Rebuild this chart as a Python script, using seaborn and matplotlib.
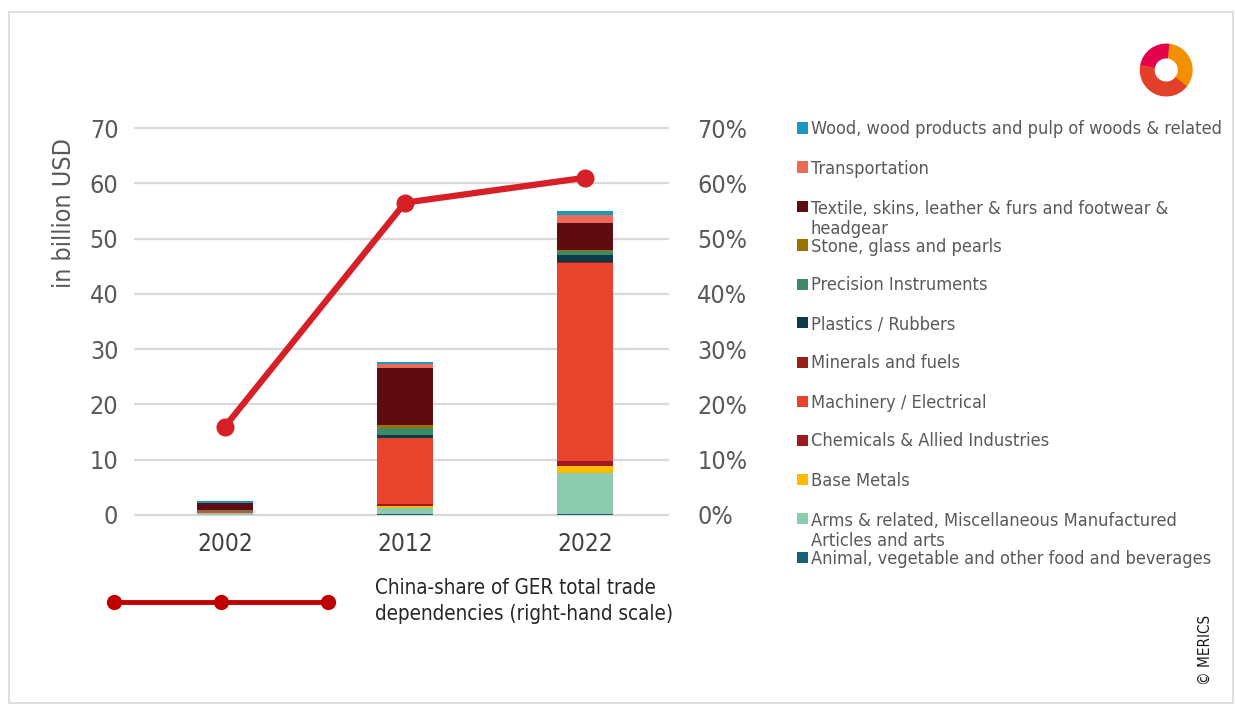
import numpy as np
import pandas as pd
import matplotlib
matplotlib.use("Agg")
import matplotlib.pyplot as plt
import seaborn as sns
from matplotlib.lines import Line2D
from matplotlib.patches import Rectangle, Wedge
from matplotlib.ticker import FuncFormatter

# ---------------- data ----------------
years = ["2002", "2012", "2022"]
# stacking order from bottom to top
categories = [
    "Animal, vegetable and other food and beverages",
    "Arms & related, Miscellaneous Manufactured\nArticles and arts",
    "Base Metals",
    "Chemicals & Allied Industries",
    "Machinery / Electrical",
    "Minerals and fuels",
    "Plastics / Rubbers",
    "Precision Instruments",
    "Stone, glass and pearls",
    "Textile, skins, leather & furs and footwear &\nheadgear",
    "Transportation",
    "Wood, wood products and pulp of woods & related",
]
colors = [
    "#166378", "#8BCBAF", "#FDBB00", "#A01820", "#E8432C", "#992016",
    "#0D3A4A", "#3E8A68", "#9A7200", "#5E0C10", "#EE6A58", "#1B98C0",
]
animal = [0.05, 0.15, 0.10]
arms = [0.30, 1.20, 7.50]
base_metals = [0.05, 0.35, 1.30]
chemicals = [0.05, 0.30, 0.80]
machinery = [0.25, 11.90, 35.90]
minerals = [0.03, 0.10, 0.20]
plastics = [0.05, 0.40, 1.20]
precision = [0.10, 1.25, 0.70]
stone = [0.05, 0.70, 0.25]
textile = [1.20, 10.20, 4.80]
transportation = [0.05, 0.70, 1.60]
wood = [0.30, 0.35, 0.60]
china_share = [0.16, 0.565, 0.61]
line_label = "China-share of GER total trade\ndependencies (right-hand scale)"

series = [animal, arms, base_metals, chemicals, machinery, minerals,
          plastics, precision, stone, textile, transportation, wood]

# ---------------- style ----------------
sns.set_theme(style="white")
plt.rcParams["font.family"] = ["DejaVu Sans"]
plt.rcParams["font.stretch"] = "condensed"
TXT = "#595959"

fig = plt.figure(figsize=(12.35, 7.05), dpi=100)
W, H = 1235, 705

def fx(px):
    return px / W

def fy(py):
    return 1 - py / H

ax = fig.add_axes([fx(135), fy(515), fx(668) - fx(135), fy(128) - fy(515)])

df = pd.DataFrame(np.array(series).T, columns=categories)
df["year"] = years
cum = df[categories].cumsum(axis=1)

# draw cumulative bars from top down so lower segments overlay
for i in reversed(range(len(categories))):
    sns.barplot(x=df["year"], y=cum[categories[i]], color=colors[i],
                width=0.31, saturation=1, linewidth=0, ax=ax)

ax.set_ylim(0, 70)
ax.set_yticks(np.arange(0, 71, 10))
ax.set_xlim(-0.5, 2.46)
ax.set_xlabel("")
ax.set_ylabel("in billion USD", fontsize=18, color=TXT)
ax.yaxis.set_label_coords(-0.111, 0.78)
ax.grid(axis="y", color="#d9d9d9", linewidth=1.6)
ax.set_axisbelow(True)
for gl in ax.get_ygridlines():
    gl.set_clip_on(False)
for s in ax.spines.values():
    s.set_visible(False)
ax.tick_params(axis="y", length=0, pad=12, labelsize=18, labelcolor=TXT)
ax.tick_params(axis="x", length=0, pad=12, labelsize=17.5, labelcolor="#404040")

ax2 = ax.twinx()
xpos = np.arange(len(years))
sns.lineplot(x=xpos, y=china_share, ax=ax2, color="#D71F27", linewidth=4.5,
             marker="o", markersize=13, markeredgewidth=0, legend=False)
ax2.set_ylim(0, 0.7)
ax2.set_yticks(np.arange(0, 0.71, 0.1))
ax2.yaxis.set_major_formatter(FuncFormatter(lambda v, p: f"{v*100:.0f}%"))
ax2.set_xlim(-0.5, 2.46)
ax2.set_ylabel("")
ax2.set_xlabel("")
for s in ax2.spines.values():
    s.set_visible(False)
ax2.tick_params(axis="y", length=0, pad=21, labelsize=18, labelcolor=TXT)
ax2.grid(False)

# line legend
handle = Line2D([], [], color="#C00000", linewidth=3.5, marker="o",
                markersize=11, markeredgewidth=0)
leg = fig.legend(handles=[handle], labels=[line_label], numpoints=3,
                 handlelength=11.0, handletextpad=2.0, frameon=False,
                 fontsize=14.8, labelcolor="#262626", loc="center left",
                 bbox_to_anchor=(fx(100), fy(601)), borderaxespad=0)
for t in leg.get_texts():
    t.set_linespacing(1.35)

# category legend (top of stack first)
FS = 13.1
line_h = 1.2 * FS * 100 / 72
for k, i in enumerate(reversed(range(len(categories)))):
    yc = 128 + 39 * k
    fig.add_artist(Rectangle((fx(797), fy(yc + 5.5)), fx(11), 11 / H,
                             transform=fig.transFigure, facecolor=colors[i],
                             edgecolor="none"))
    nlines = categories[i].count("\n")
    fig.text(fx(811), fy(yc + 6.5 + nlines * line_h), categories[i],
             fontsize=FS, color=TXT, ha="left", va="baseline",
             linespacing=1.2)

# copyright
fig.text(fx(1205), fy(650), "© MERICS", rotation=90, fontsize=11,
         color="#1a1a1a", ha="center", va="center")

# border
fig.add_artist(Rectangle((fx(9), fy(703)), fx(1233) - fx(9), fy(12) - fy(703),
                         transform=fig.transFigure, facecolor="none",
                         edgecolor="#d9d9d9", linewidth=1.2))

# logo
lax = fig.add_axes([fx(1134), fy(97), fx(62), 54 / H])
lax.set_xlim(-1.2, 1.2)
lax.set_ylim(-1.1, 1.1)
lax.set_aspect("equal")
lax.axis("off")
lax.add_patch(Wedge((0.05, 0), 1.05, -40, 85, width=0.55, color="#F29100"))
lax.add_patch(Wedge((0.05, 0), 1.05, 85, 170, width=0.55, color="#E5004B"))
lax.add_patch(Wedge((0.05, 0), 1.05, 170, 320, width=0.55, color="#E2402B"))

fig.savefig("out.png", dpi=100)
